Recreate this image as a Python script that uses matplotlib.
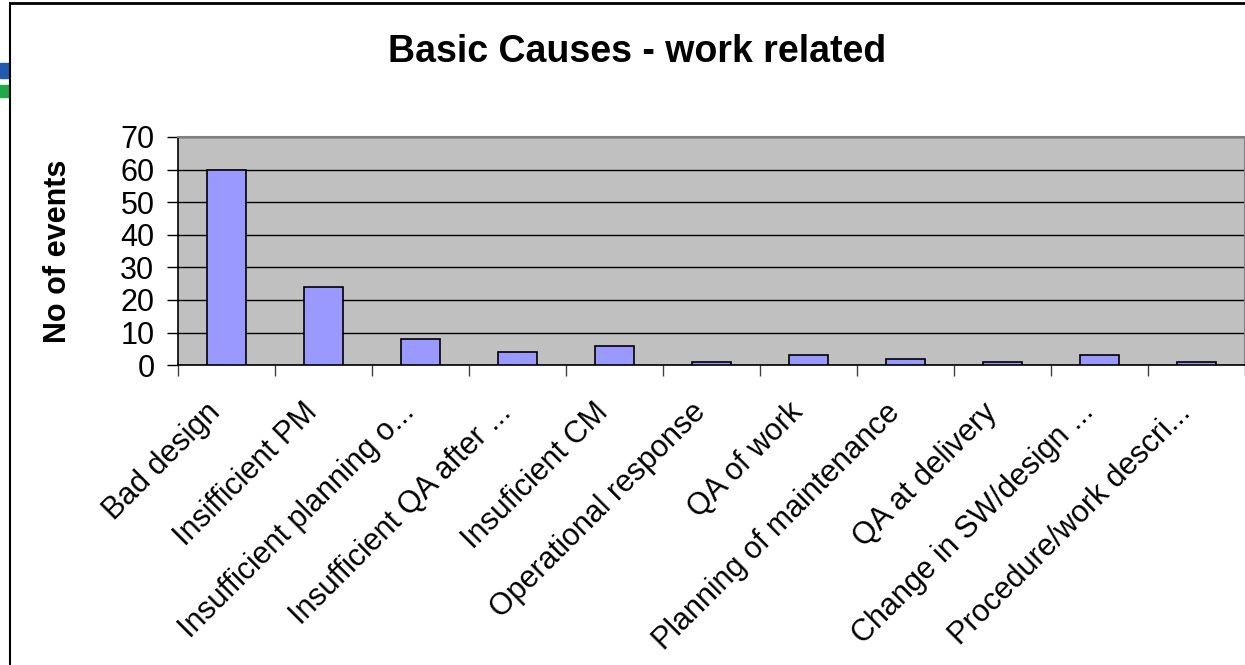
import matplotlib.pyplot as plt
from matplotlib.lines import Line2D
from matplotlib.patches import Rectangle
from matplotlib.ticker import FixedLocator
from matplotlib.transforms import ScaledTranslation

plt.rcParams['font.family'] = ['Liberation Sans', 'DejaVu Sans']

causes = ['Bad design', 'Insifficient PM', 'Insufficient planning o...',
          'Insufficient QA after ...', 'Insuficient CM', 'Operational response',
          'QA of work', 'Planning of maintenance', 'QA at delivery',
          'Change in SW/design ...', 'Procedure/work descri...']
events = [60, 24, 8, 4, 6, 1, 3, 2, 1, 3, 1]
y_ticks = [0, 10, 20, 30, 40, 50, 60, 70]

fig = plt.figure(figsize=(12.45, 6.65), dpi=100)
ax = fig.add_axes([0.143, 0.451, 0.857, 0.343])
ax.set_facecolor('#C0C0C0')

x = list(range(len(causes)))
ax.bar(x, events, width=0.4, color='#9999FF', edgecolor='black',
       linewidth=1.2, zorder=3)

ax.set_xlim(-0.5, len(causes) - 0.5)
ax.set_ylim(0, 70)
ax.set_yticks(y_ticks)
ax.yaxis.grid(True, color='black', linewidth=1.0, zorder=1)
ax.tick_params(axis='y', direction='out', length=8, width=1, labelsize=22, pad=9)

ax.set_xticks(x)
ax.set_xticklabels(causes, rotation=45, ha='right', rotation_mode='anchor',
                   fontsize=22)
ax.tick_params(axis='x', which='major', length=0, pad=16)
shift = ScaledTranslation(-21 / 100, -10 / 100, fig.dpi_scale_trans)
for lbl in ax.get_xticklabels():
    lbl.set_transform(lbl.get_transform() + shift)
ax.xaxis.set_minor_locator(FixedLocator([i - 0.5 for i in range(len(causes) + 1)]))
ax.tick_params(axis='x', which='minor', direction='out', length=8, width=1,
               color='#404040')

for side in ('top', 'right'):
    ax.spines[side].set_color('#808080')
    ax.spines[side].set_linewidth(1.5)
for side in ('left', 'bottom'):
    ax.spines[side].set_color('black')
    ax.spines[side].set_linewidth(1.2)

ax.set_ylabel('No of events', fontsize=22, fontweight='bold', labelpad=34)

fig.text(0.5116, 0.922, 'Basic Causes - work related', ha='center', va='center',
         fontsize=27, fontweight='bold')

# frame of the slide and the coloured bars at its left edge
fig.add_artist(Line2D([10 / 1245, 10 / 1245], [0, 1 - 3 / 665],
                      color='black', linewidth=1.5))
fig.add_artist(Line2D([10 / 1245, 1], [1 - 3 / 665, 1 - 3 / 665],
                      color='black', linewidth=2))
fig.add_artist(Rectangle((0, 1 - 78 / 665), 9 / 1245, 15 / 665,
                         color='#1F5BAE', transform=fig.transFigure))
fig.add_artist(Rectangle((0, 1 - 97 / 665), 9 / 1245, 12 / 665,
                         color='#22A84A', transform=fig.transFigure))

fig.savefig('out.png', dpi=100)
